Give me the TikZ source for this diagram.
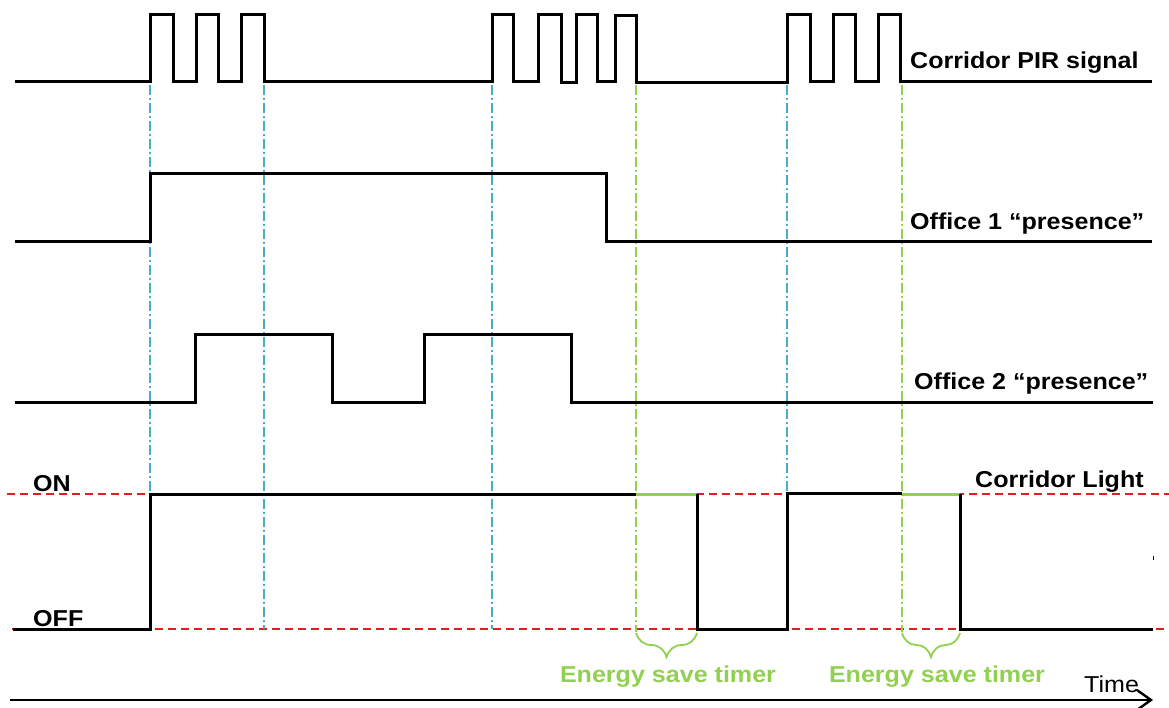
\documentclass[tikz,border=0pt]{standalone}
\usepackage{fontspec}
\setmainfont[FakeStretch=1.09]{Liberation Sans}
\usetikzlibrary{arrows.meta,decorations.pathreplacing}
\definecolor{sigblue}{RGB}{75,172,198}
\definecolor{siggreen}{RGB}{146,208,80}
\definecolor{sigred}{RGB}{225,30,30}
\tikzset{
  wave/.style={line width=3pt, line join=miter},
  greenwave/.style={line width=3pt, siggreen},
  bluemark/.style={sigblue, line width=1.3pt, dash pattern=on 10pt off 3pt on 2pt off 3pt},
  greenmark/.style={siggreen, line width=1.2pt, dash pattern=on 10pt off 3pt on 2pt off 3pt},
  levelline/.style={sigred, line width=1.2pt, dash pattern=on 8pt off 5pt},
  lbl/.style={font=\fontsize{23}{27}\selectfont\bfseries, anchor=base west, inner sep=0pt},
  timerlbl/.style={font=\fontsize{23}{27}\selectfont\bfseries, text=siggreen, anchor=base, inner sep=0pt},
  timerbrace/.style={siggreen, line width=1.8pt, decorate, decoration={brace, amplitude=24pt, mirror}}
}
\begin{document}
\begin{tikzpicture}[x=1pt,y=-1pt]
\useasboundingbox (0,0) rectangle (1169,707);
% level reference lines
\coordinate (onL) at (7,494);
\coordinate (onR) at (1169,494);
\coordinate (offL) at (12,629);
\coordinate (offR) at (1169,629);
\draw[levelline] (onL) -- (onR);
\draw[levelline] (offL) -- (offR);
% vertical markers
\coordinate (b1t) at (150,85);  \coordinate (b1b) at (150,629);
\coordinate (b2t) at (264,85);  \coordinate (b2b) at (264,629);
\coordinate (b3t) at (492,85);  \coordinate (b3b) at (492,629);
\coordinate (b4t) at (787,85);  \coordinate (b4b) at (787,494);
\coordinate (g1t) at (636,85);  \coordinate (g1b) at (636,632);
\coordinate (g2t) at (902,85);  \coordinate (g2b) at (902,632);
\draw[bluemark] (b1t) -- (b1b);
\draw[bluemark] (b2t) -- (b2b);
\draw[bluemark] (b3t) -- (b3b);
\draw[bluemark] (b4t) -- (b4b);
\draw[greenmark] (g1t) -- (g1b);
\draw[greenmark] (g2t) -- (g2b);
% PIR signal
\draw[wave] (15,81) -- (150,81) -- (150,14) -- (173,14) -- (173,81) -- (196,81) -- (196,14) -- (218,14) -- (218,81)
  -- (241,81) -- (241,14) -- (264,14) -- (264,81) -- (492,81) -- (492,14) -- (513,14) -- (513,81)
  -- (538,81) -- (538,14) -- (561,14) -- (561,82) -- (576,82) -- (576,14) -- (597,14) -- (597,81)
  -- (615,81) -- (615,15) -- (636,15) -- (636,82) -- (787,82) -- (787,14) -- (810,14) -- (810,81)
  -- (833,81) -- (833,14) -- (855,14) -- (855,81) -- (878,81) -- (878,14) -- (900,14) -- (900,81) -- (1152,81);
% Office 1
\draw[wave] (15,241) -- (150,241) -- (150,173) -- (606,173) -- (606,241) -- (1152,241);
% Office 2
\draw[wave] (15,402) -- (195,402) -- (195,334) -- (332,334) -- (332,402) -- (424,402) -- (424,334) -- (571,334) -- (571,402) -- (1153,402);
% Corridor light
\draw[wave] (13,629) -- (150,629) -- (150,494) -- (636,494);
\draw[greenwave] (636,494) -- (697,494);
\draw[wave] (697,494) -- (697,629) -- (787,629) -- (787,493) -- (902,493);
\draw[greenwave] (902,494) -- (960,494);
\draw[wave] (960,494) -- (960,629) -- (1153,629);
% tiny tick
\coordinate (tk1) at (1153,556);
\coordinate (tk2) at (1153,560);
\draw[line width=0.8pt] (tk1) -- (tk2);
% labels
\node[lbl] (pir) at (910,68) {Corridor PIR signal};
\node[lbl] (off1) at (910,229) {Office 1 “presence”};
\node[lbl] (off2) at (914,389) {Office 2 “presence”};
\node[lbl] (light) at (975,487) {Corridor Light};
\node[lbl] (on) at (33,491) {ON};
\node[lbl] (off) at (33,626) {OFF};
% braces
\coordinate (br1a) at (636,633);
\coordinate (br1b) at (697,633);
\coordinate (br2a) at (902,633);
\coordinate (br2b) at (960,633);
\draw[timerbrace] (br1a) -- (br1b);
\draw[timerbrace] (br2a) -- (br2b);
\node[timerlbl] (t1) at (668,682) {Energy save timer};
\node[timerlbl] (t2) at (937,682) {Energy save timer};
% time axis
\coordinate (ax0) at (10,700);
\coordinate (ax1) at (1153,700);
\draw[line width=2.4pt, -{Straight Barb[length=14pt,width=20pt,line width=2.4pt]}] (ax0) -- (ax1);
\node[font=\fontsize{23}{27}\selectfont, anchor=base west, inner sep=0pt] (time) at (1084,692) {Time};
\end{tikzpicture}
\end{document}
